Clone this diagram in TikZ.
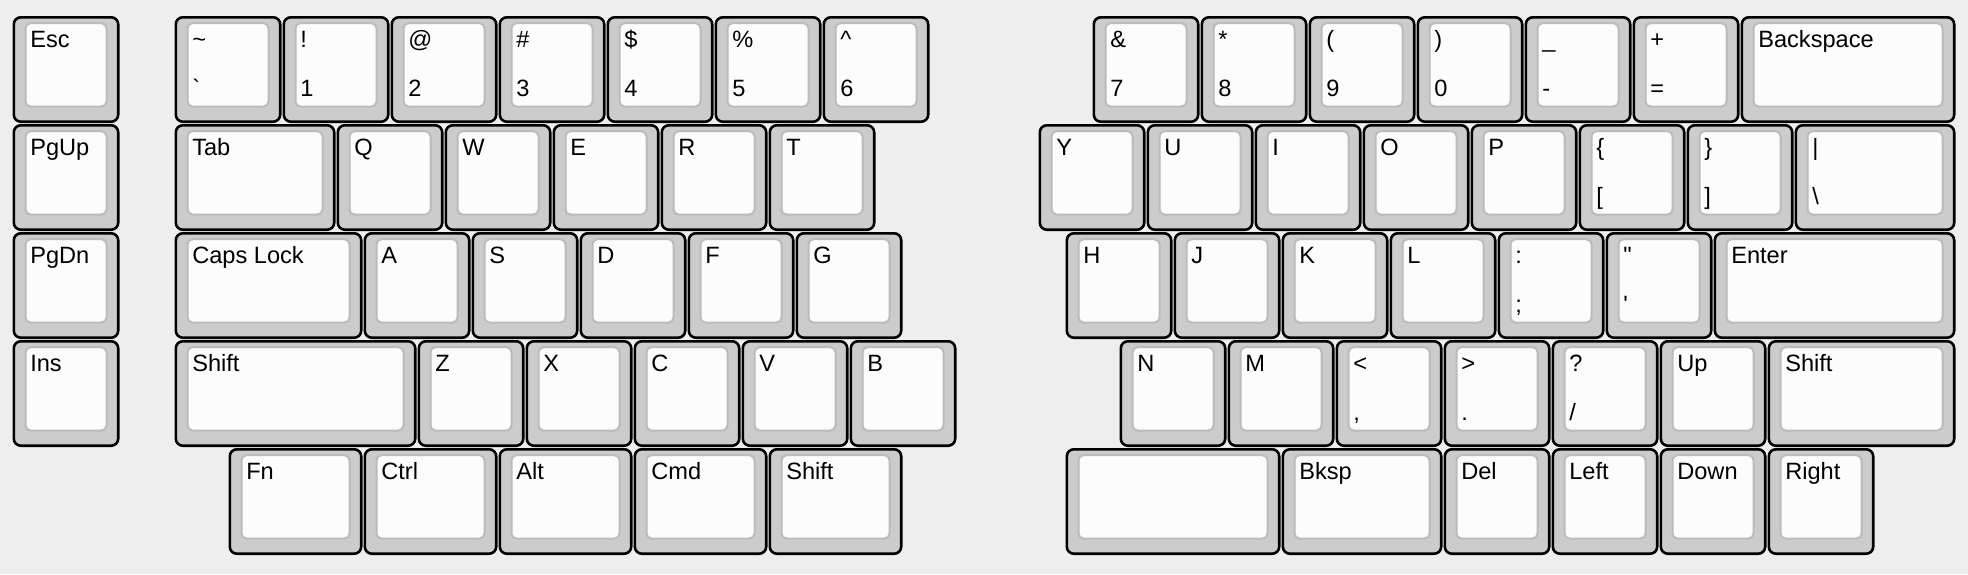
\documentclass[tikz,border=0pt]{standalone}
\usepackage{fontspec}
\setmainfont{Liberation Sans}
\definecolor{bgc}{HTML}{EEEEEE}
\definecolor{capc}{HTML}{CCCCCC}
\definecolor{topc}{HTML}{FCFCFC}
\definecolor{edgec}{HTML}{BBBBBB}
\tikzset{
  keycap/.style={draw=black, fill=capc, line width=2.6pt, rounded corners=7pt, inner sep=0pt, outer sep=0pt, rectangle},
  keytop/.style={draw=edgec, fill=topc, line width=2pt, rounded corners=5pt, inner sep=0pt, outer sep=0pt, rectangle},
  lbl/.style={anchor=base west, inner sep=0pt, outer sep=0pt, text=black, font=\fontsize{23.6}{26}\selectfont}
}
\newcommand\kb[6]{%
  \pgfmathsetmacro\kL{12+108*#2}%
  \pgfmathsetmacro\kT{15.5+108*#3}%
  \pgfmathsetmacro\kW{108*#4}%
  \pgfmathsetmacro\kOW{\kW-3.6}%
  \pgfmathsetmacro\kIW{\kW-27}%
  \node[keycap, minimum width=\kOW pt, minimum height=104.4pt] (#1) at (\kL+\kW/2,\kT+54) {};
  \node[keytop, minimum width=\kIW pt, minimum height=83.3pt] (#1-top) at (\kL+\kW/2,\kT+49.35) {};
  \if\relax\detokenize{#5}\relax\else
    \node[lbl] (#1-a) at (\kL+18.3,\kT+31.8) {#5};
  \fi
  \if\relax\detokenize{#6}\relax\else
    \node[lbl] (#1-b) at (\kL+18.3,\kT+80.5) {#6};
  \fi
}
\begin{document}
\begin{tikzpicture}[x=1pt,y=-1pt]
\fill[bgc] (0,0) rectangle (1968,574);
\useasboundingbox (0,0) rectangle (1968,574);
% row 0
\kb{esc}{0}{0}{1}{Esc}{}
\kb{tilde}{1.5}{0}{1}{\textasciitilde}{\textasciigrave}
\kb{n1}{2.5}{0}{1}{!}{1}
\kb{n2}{3.5}{0}{1}{@}{2}
\kb{n3}{4.5}{0}{1}{\#}{3}
\kb{n4}{5.5}{0}{1}{\$}{4}
\kb{n5}{6.5}{0}{1}{\%}{5}
\kb{n6}{7.5}{0}{1}{\textasciicircum}{6}
\kb{n7}{10}{0}{1}{\&}{7}
\kb{n8}{11}{0}{1}{*}{8}
\kb{n9}{12}{0}{1}{(}{9}
\kb{n0}{13}{0}{1}{)}{0}
\kb{minus}{14}{0}{1}{\_}{-}
\kb{equal}{15}{0}{1}{+}{=}
\kb{bspc}{16}{0}{2}{Backspace}{}
% row 1
\kb{pgup}{0}{1}{1}{PgUp}{}
\kb{tab}{1.5}{1}{1.5}{Tab}{}
\kb{q}{3}{1}{1}{Q}{}
\kb{w}{4}{1}{1}{W}{}
\kb{e}{5}{1}{1}{E}{}
\kb{r}{6}{1}{1}{R}{}
\kb{t}{7}{1}{1}{T}{}
\kb{y}{9.5}{1}{1}{Y}{}
\kb{u}{10.5}{1}{1}{U}{}
\kb{i}{11.5}{1}{1}{I}{}
\kb{o}{12.5}{1}{1}{O}{}
\kb{p}{13.5}{1}{1}{P}{}
\kb{lbrc}{14.5}{1}{1}{\{}{[}
\kb{rbrc}{15.5}{1}{1}{\}}{]}
\kb{bsl}{16.5}{1}{1.5}{|}{\textbackslash}
% row 2
\kb{pgdn}{0}{2}{1}{PgDn}{}
\kb{caps}{1.5}{2}{1.75}{Caps Lock}{}
\kb{a}{3.25}{2}{1}{A}{}
\kb{s}{4.25}{2}{1}{S}{}
\kb{d}{5.25}{2}{1}{D}{}
\kb{f}{6.25}{2}{1}{F}{}
\kb{g}{7.25}{2}{1}{G}{}
\kb{h}{9.75}{2}{1}{H}{}
\kb{j}{10.75}{2}{1}{J}{}
\kb{k}{11.75}{2}{1}{K}{}
\kb{l}{12.75}{2}{1}{L}{}
\kb{scln}{13.75}{2}{1}{:}{;}
\kb{quot}{14.75}{2}{1}{\textquotedbl}{\textquotesingle}
\kb{enter}{15.75}{2}{2.25}{Enter}{}
% row 3
\kb{ins}{0}{3}{1}{Ins}{}
\kb{lshift}{1.5}{3}{2.25}{Shift}{}
\kb{z}{3.75}{3}{1}{Z}{}
\kb{x}{4.75}{3}{1}{X}{}
\kb{c}{5.75}{3}{1}{C}{}
\kb{v}{6.75}{3}{1}{V}{}
\kb{b}{7.75}{3}{1}{B}{}
\kb{n}{10.25}{3}{1}{N}{}
\kb{m}{11.25}{3}{1}{M}{}
\kb{comma}{12.25}{3}{1}{<}{,}
\kb{dot}{13.25}{3}{1}{>}{.}
\kb{slash}{14.25}{3}{1}{?}{/}
\kb{up}{15.25}{3}{1}{Up}{}
\kb{rshift}{16.25}{3}{1.75}{Shift}{}
% row 4
\kb{fn}{2}{4}{1.25}{Fn}{}
\kb{ctrl}{3.25}{4}{1.25}{Ctrl}{}
\kb{alt}{4.5}{4}{1.25}{Alt}{}
\kb{cmd}{5.75}{4}{1.25}{Cmd}{}
\kb{shiftb}{7}{4}{1.25}{Shift}{}
\kb{space}{9.75}{4}{2}{}{}
\kb{bksp}{11.75}{4}{1.5}{Bksp}{}
\kb{del}{13.25}{4}{1}{Del}{}
\kb{left}{14.25}{4}{1}{Left}{}
\kb{down}{15.25}{4}{1}{Down}{}
\kb{right}{16.25}{4}{1}{Right}{}
\end{tikzpicture}
\end{document}
